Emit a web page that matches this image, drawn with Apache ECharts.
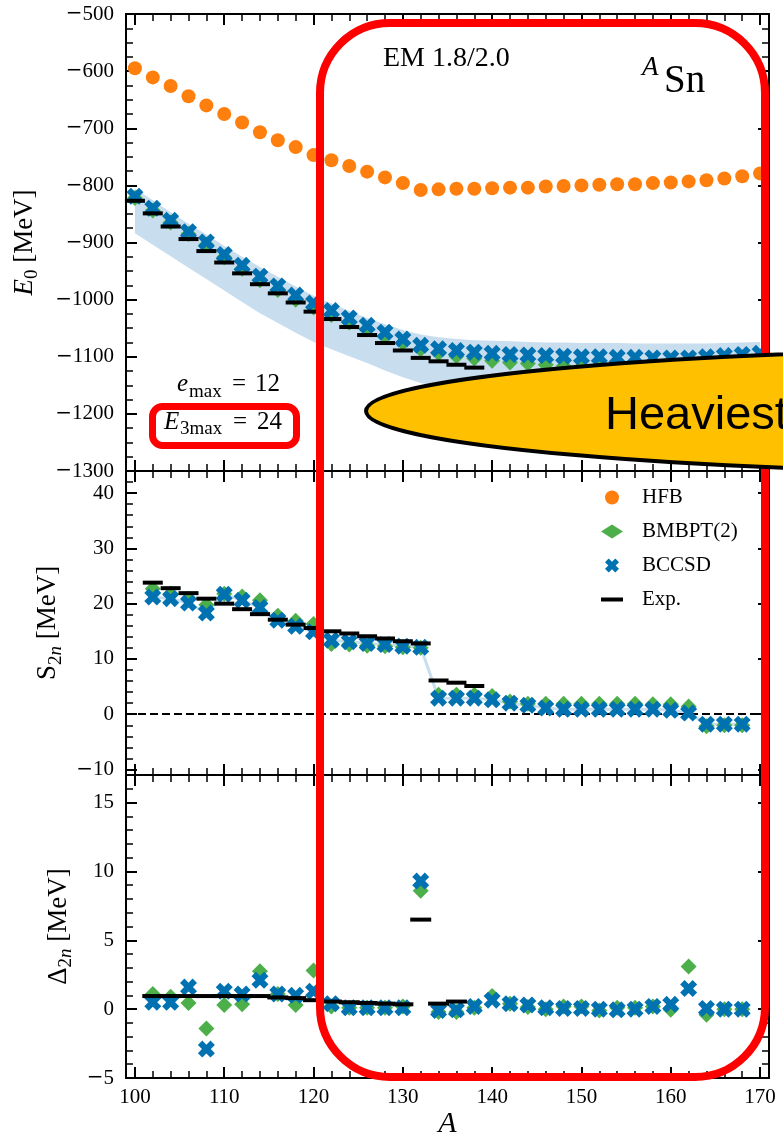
<!DOCTYPE html>
<html><head><meta charset="utf-8">
<script src="https://cdn.jsdelivr.net/npm/echarts@6/dist/echarts.min.js"></script>
<style>html,body{margin:0;padding:0;background:#fff}#c{width:783px;height:1145px}</style>
</head><body><div id="c"></div>
<script>
// ---------------- data ----------------
const massA = [100,102,104,106,108,110,112,114,116,118,120,122,124,126,128,130,132,134,136,138,140,142,144,146,148,150,152,154,156,158,160,162,164,166,168,170];
const hfbE = [-595,-611,-626,-644,-660,-675,-690,-707,-721,-733,-747,-756,-766,-776,-786,-796,-808,-807,-806,-806,-805,-804,-804,-802,-801,-800,-799,-798,-798,-796,-795,-793,-791,-788,-784,-779];
const bccsdE = [-819,-840,-861,-881,-899,-921,-940,-959,-976,-992,-1006,-1019,-1032,-1045,-1057,-1069,-1080,-1086,-1089,-1092,-1094,-1096,-1097,-1098,-1099,-1100,-1100,-1101,-1101,-1102,-1102,-1102,-1100,-1098,-1096,-1094];
const bmbptE = [-822,-844,-865,-885,-904,-926,-946,-966,-983,-1000,-1014,-1027,-1040,-1052,-1064,-1076,-1087,-1094,-1099,-1103,-1107,-1110,-1112,-1114,-1116,-1118,-1120,-1121,-1122,-1123,-1124,-1125,-1123,-1121,-1119,-1117];
const bandHigh = [-806,-826,-847,-867,-886,-906,-925,-943,-960,-977,-993,-1007,-1020,-1032,-1043,-1053,-1061,-1066,-1069,-1071,-1072,-1073,-1074,-1075,-1075,-1076,-1076,-1076,-1077,-1077,-1077,-1077,-1077,-1076,-1075,-1074];
const bandLow = [-884,-904,-924,-944,-964,-984,-1004,-1024,-1041,-1058,-1074,-1087,-1099,-1111,-1124,-1136,-1146,-1152,-1156,-1159,-1161,-1162,-1163,-1163,-1163,-1163,-1163,-1163,-1163,-1162,-1161,-1160,-1159,-1158,-1157,-1156];
const expEA = [100,102,104,106,108,110,112,114,116,118,120,122,124,126,128,130,132,134,136,138];
const expE = [-827,-849,-872,-894,-915,-935,-954,-973,-989,-1005,-1021,-1034,-1048,-1062,-1076,-1089,-1102,-1108,-1114,-1119];

const s2nA = [102,104,106,108,110,112,114,116,118,120,122,124,126,128,130,132,134,136,138,140,142,144,146,148,150,152,154,156,158,160,162,164,166,168];
const bccsdS2n = [21.2,20.9,20.1,18.3,21.7,20.6,19.3,17.0,15.9,14.9,13.4,13.1,12.8,12.6,12.3,12.1,2.9,2.9,2.9,2.6,2.0,1.6,1.1,0.9,0.9,0.9,0.9,0.9,0.9,0.7,0.2,-1.8,-1.8,-1.8];
const bmbptS2n = [22.7,21.8,20.9,19.8,21.8,21.3,20.6,17.8,16.9,16.3,12.7,12.6,12.4,12.3,12.1,12.0,3.5,3.5,3.5,3.3,2.3,1.9,1.9,1.9,1.9,1.9,1.9,1.9,1.8,1.8,1.4,-2.2,-2.0,-2.0];
const expS2nA = [102,104,106,108,110,112,114,116,118,120,122,124,126,128,130,132,134,136,138];
const expS2n = [23.8,22.8,21.9,20.9,20.0,19.0,18.1,17.1,16.2,15.6,15.0,14.6,14.1,13.7,13.2,12.8,6.1,5.7,5.1];

const d2nA = [102,104,106,108,110,112,114,116,118,120,122,124,126,128,130,132,134,136,138,140,142,144,146,148,150,152,154,156,158,160,162,164,166,168];
const bccsdD2n = [0.5,0.5,1.6,-2.9,1.3,1.1,2.1,1.1,1.0,1.3,0.4,0.1,0.1,0.1,0.1,9.3,-0.1,-0.05,0.2,0.65,0.4,0.3,0.1,0.05,0.05,0.0,-0.05,0.0,0.2,0.35,1.5,0.05,0.0,0.0];
const bmbptD2n = [1.1,0.9,0.45,-1.4,0.3,0.35,2.75,1.1,0.3,2.8,0.2,0.1,0.1,0.1,0.2,8.6,-0.2,-0.2,0.1,0.95,0.4,0.15,0.0,0.2,0.2,-0.1,0.1,0.1,0.2,-0.05,3.1,-0.4,0.0,0.0];
const expD2nA = [102,104,106,108,110,112,114,116,118,120,122,124,126,128,130,132,134,136];
const expD2n = [0.95,0.95,0.95,0.95,0.95,0.95,0.95,0.85,0.8,0.65,0.55,0.5,0.45,0.4,0.35,6.5,0.4,0.55];

// ticks
const xMajor = [100,110,120,130,140,150,160,170];
const xMinor = [102,104,106,108,112,114,116,118,122,124,126,128,132,134,136,138,142,144,146,148,152,154,156,158,162,164,166,168];
const eMajor = [-1300,-1200,-1100,-1000,-900,-800,-700,-600,-500];
const eMinor = [-1275,-1250,-1225,-1175,-1150,-1125,-1075,-1050,-1025,-975,-950,-925,-875,-850,-825,-775,-750,-725,-675,-650,-625,-575,-550,-525];
const sMajor = [-10,0,10,20,30,40];
const sMinor = [-8,-6,-4,-2,2,4,6,8,12,14,16,18,22,24,26,28,32,34,36,38,42];
const dMajor = [-5,0,5,10,15];
const dMinor = [-4,-3,-2,-1,1,2,3,4,6,7,8,9,11,12,13,14,16];

// ---------------- styles ----------------
const SERIF = '"Liberation Serif","Times New Roman",serif';
const C_HFB = '#ff7f0e', C_BMB = '#4daf4a', C_BCC = '#0072b2', C_BAND = '#c8ddee';
const XPATH = 'path://M2.6,0L5,2.4L7.4,0L10,2.6L7.6,5L10,7.4L7.4,10L5,7.6L2.6,10L0,7.4L2.4,5L0,2.6Z';
const DASHICON = 'path://M0,0M22,14M0,5L22,5L22,9L0,9Z';
const fmt = v => (v < 0 ? '{m|\u2212}' + String(-v) : String(v));
const labelRich = {m:{fontFamily:'"DejaVu Serif",serif', fontSize:20, color:'#000'}};

const X_MIN = 99, X_MAX = 171;
const yRange = [[-1300,-500],[-11,44],[-5,17]];
const yTicks = [[eMajor,eMinor],[sMajor,sMinor],[dMajor,dMinor]];

function mkAxis(kind, gi, pos, ticks, len, w, line, labels, min, max) {
  return {
    type:'value', gridIndex:gi, position:pos, min:min, max:max,
    axisLine:{show:line, onZero:false, lineStyle:{color:'#000', width:2}},
    axisTick:{show:true, inside:true, length:len, customValues:ticks, lineStyle:{color:'#000', width:w}},
    axisLabel: labels ? {show:true, customValues:ticks, formatter:fmt, rich:labelRich, color:'#000', fontFamily:SERIF, fontSize:21, margin: kind==='x'?9:12} : {show:false},
    splitLine:{show:false}, minorTick:{show:false}
  };
}

const xAxes = [], yAxes = [];
for (let g = 0; g < 3; g++) {
  xAxes.push(mkAxis('x', g, 'bottom', xMajor, 11, 2, true, g===2, X_MIN, X_MAX));
  xAxes.push(mkAxis('x', g, 'bottom', xMinor, 7, 1.5, false, false, X_MIN, X_MAX));
  xAxes.push(mkAxis('x', g, 'top', xMajor, 11, 2, true, false, X_MIN, X_MAX));
  xAxes.push(mkAxis('x', g, 'top', xMinor, 7, 1.5, false, false, X_MIN, X_MAX));
  const [mn, mx] = yRange[g];
  yAxes.push(mkAxis('y', g, 'left', yTicks[g][0], 11, 2, true, true, mn, mx));
  yAxes.push(mkAxis('y', g, 'left', yTicks[g][1], 7, 1.5, false, false, mn, mx));
  yAxes.push(mkAxis('y', g, 'right', yTicks[g][0], 11, 2, true, false, mn, mx));
  yAxes.push(mkAxis('y', g, 'right', yTicks[g][1], 7, 1.5, false, false, mn, mx));
}
xAxes[8].name = 'A';
xAxes[8].nameLocation = 'middle';
xAxes[8].nameGap = 30;
xAxes[8].nameTextStyle = {fontFamily:SERIF, fontStyle:'italic', fontSize:30, color:'#000'};

const nameRich = {
  it:{fontFamily:SERIF, fontStyle:'italic', fontSize:27, lineHeight:34, verticalAlign:'middle', color:'#000'},
  r:{fontFamily:SERIF, fontSize:27, lineHeight:34, verticalAlign:'middle', color:'#000'},
  sub:{fontFamily:SERIF, fontSize:19, lineHeight:19, verticalAlign:'bottom', color:'#000'},
  subi:{fontFamily:SERIF, fontSize:19, fontStyle:'italic', lineHeight:19, verticalAlign:'bottom', color:'#000'}
};
const yNames = ['{it|E}{sub|0}{r| [MeV]}', '{r|S}{sub|2}{subi|n}{r| [MeV]}', '{r|\u0394}{sub|2}{subi|n}{r| [MeV]}'];
const yGaps = [84, 54, 46];
for (let g = 0; g < 3; g++) {
  const ax = yAxes[4*g];
  ax.name = yNames[g]; ax.nameLocation = 'middle'; ax.nameGap = yGaps[g]; ax.nameRotate = 90;
  ax.nameTextStyle = {fontFamily:SERIF, fontSize:27, lineHeight:34, color:'#000', rich:nameRich};
}

const zip = (xs, ys) => xs.map((x, i) => [x, ys[i]]);
function scat(name, g, xs, ys, symbol, size, color, z) {
  return {type:'scatter', name:name, xAxisIndex:4*g, yAxisIndex:4*g, data:zip(xs, ys),
    symbol:symbol, symbolSize:size, itemStyle:{color:color, opacity:1}, z:z, silent:true, clip:true};
}

const series = [
  {type:'custom', name:'band', xAxisIndex:0, yAxisIndex:0, z:1, silent:true, data:[[0,0]],
   renderItem:(p, api) => {
     const up = massA.map((a, i) => api.coord([a, bandHigh[i]]));
     const lo = massA.map((a, i) => api.coord([a, bandLow[i]])).reverse();
     return {type:'polygon', shape:{points:up.concat(lo)}, style:{fill:C_BAND}};
   }},
  scat('HFB', 0, massA, hfbE, 'circle', 14, C_HFB, 3),
  scat('BMBPT(2)', 0, massA, bmbptE, 'diamond', 16, C_BMB, 4),
  scat('BCCSD', 0, massA, bccsdE, XPATH, 17, C_BCC, 5),
  scat('Exp.', 0, expEA, expE, 'rect', [20,4], '#000', 6),

  {type:'line', name:'s2nband', xAxisIndex:4, yAxisIndex:4, data:zip(s2nA, bccsdS2n), showSymbol:false, symbol:'none',
   lineStyle:{color:C_BAND, width:3}, z:1, silent:true,
   markLine:{silent:true, symbol:['none','none'], label:{show:false}, animation:false,
     lineStyle:{color:'#000', width:2, type:[8,4]}, data:[{yAxis:0}]}},
  scat('BMBPT(2)', 1, s2nA, bmbptS2n, 'diamond', 16, C_BMB, 4),
  scat('BCCSD', 1, s2nA, bccsdS2n, XPATH, 17, C_BCC, 5),
  scat('Exp.', 1, expS2nA, expS2n, 'rect', [20,4], '#000', 6),

  scat('BMBPT(2)', 2, d2nA, bmbptD2n, 'diamond', 16, C_BMB, 4),
  scat('BCCSD', 2, d2nA, bccsdD2n, XPATH, 17, C_BCC, 5),
  scat('Exp.', 2, expD2nA, expD2n, 'rect', [21,4], '#000', 6)
];

function txt(t, x, y, size, italic, family) {
  return {type:'text', x:x, y:y, z:120, silent:true,
    style:{text:t, fontFamily:family || SERIF, fontSize:size, fontStyle:italic?'italic':'normal', fill:'#000', align:'left', verticalAlign:'middle'}};
}

const graphics = [
  {type:'rect', z:100, silent:true, shape:{x:320, y:23, width:445, height:1054, r:70},
   style:{fill:'none', stroke:'#ff0000', lineWidth:8}},
  {type:'rect', z:100, silent:true, shape:{x:152.5, y:406.5, width:144, height:39, r:10},
   style:{fill:'none', stroke:'#ff0000', lineWidth:7}},
  {type:'ellipse', z:110, silent:true, shape:{cx:1071, cy:411, rx:705, ry:62},
   style:{fill:'#ffc000', stroke:'#000', lineWidth:4}},
  txt('Heaviest', 605, 416, 47, false, '"Liberation Sans",Arial,sans-serif'),
  txt('EM 1.8/2.0', 383, 59, 28),
  txt('A', 642, 68, 27, true),
  txt('Sn', 664, 82, 39),
  txt('e', 177, 384.5, 25, true),
  txt('max', 189, 392, 19),
  txt('=', 232, 384.5, 25),
  txt('12', 255, 384.5, 25),
  txt('E', 164, 422, 25, true),
  txt('3max', 180, 429, 19),
  txt('=', 233, 422, 25),
  txt('24', 257, 422, 25)
];

const option = {
  animation:false,
  backgroundColor:'#fff',
  grid:[
    {left:126, right:14, top:14, height:457},
    {left:126, right:14, top:471, height:304},
    {left:126, right:14, top:775, height:303}
  ],
  xAxis:xAxes, yAxis:yAxes,
  legend:{
    orient:'vertical', left:601, top:487, padding:0, itemGap:13, itemWidth:22, itemHeight:14,
    selectedMode:false,
    textStyle:{fontFamily:SERIF, fontSize:21, color:'#000', lineHeight:20, padding:[0,0,0,14]},
    data:[
      {name:'HFB', icon:'circle', itemStyle:{color:C_HFB}},
      {name:'BMBPT(2)', icon:'diamond', itemStyle:{color:C_BMB}},
      {name:'BCCSD', icon:XPATH, itemStyle:{color:C_BCC}},
      {name:'Exp.', icon:DASHICON, itemStyle:{color:'#000'}}
    ]
  },
  series:series,
  graphic:{elements:graphics}
};

const chart = echarts.init(document.getElementById('c'), null, {renderer:'canvas', devicePixelRatio:1});
chart.setOption(option);
</script></body></html>
